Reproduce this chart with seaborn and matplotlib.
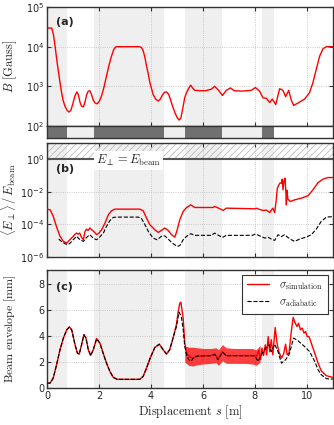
import numpy as np
import matplotlib
matplotlib.use("Agg")
import matplotlib.pyplot as plt
import seaborn as sns

# ---------------- data ----------------
# magnet (shaded) regions along s [m]
mag_start = [0.0, 1.805, 5.30, 8.27]
mag_end = [0.755, 4.52, 6.72, 8.72]
gap_start = [0.755, 4.52, 6.72]
gap_end = [1.805, 5.30, 8.27]

# panel (a): magnetic field, log10(B [Gauss])
s_a = [0.00, 0.18, 0.25, 0.31, 0.37, 0.435, 0.50, 0.56, 0.62, 0.69, 0.77, 0.845, 0.92, 0.99,
       1.07, 1.15, 1.21, 1.27, 1.33, 1.40, 1.46, 1.52, 1.58, 1.65, 1.71, 1.78, 1.85, 1.93,
       2.01, 2.10, 2.20, 2.29, 2.38, 2.48, 2.57, 2.65, 3.57, 3.64, 3.70, 3.77, 3.83, 3.90,
       3.96, 4.02, 4.08, 4.18, 4.28, 4.36, 4.44, 4.52, 4.60, 4.68, 4.75, 4.83, 4.92, 5.00,
       5.08, 5.15, 5.24, 5.30, 5.37, 5.45, 5.53, 5.61, 5.69, 5.9, 6.1, 6.33, 6.45, 6.6,
       6.75, 6.9, 7.06, 7.2, 7.5, 7.86, 8.02, 8.18, 8.31, 8.44, 8.57, 8.67, 8.80, 8.95,
       9.08, 9.18, 9.30, 9.40, 9.49, 9.66, 9.91, 10.1, 10.23, 10.36, 10.49, 10.62, 10.75, 11.0]
logB = [4.47, 4.47, 4.3, 4.02, 3.7, 3.39, 3.1, 2.85, 2.65, 2.5, 2.4, 2.35, 2.4, 2.55,
        2.75, 2.86, 2.78, 2.6, 2.5, 2.48, 2.6, 2.78, 2.87, 2.89, 2.8, 2.65, 2.58, 2.56,
        2.62, 2.76, 3.0, 3.26, 3.52, 3.76, 3.93, 4.0, 4.0, 3.97, 3.9, 3.72, 3.51, 3.3,
        3.09, 2.95, 2.8, 2.68, 2.63, 2.68, 2.78, 2.85, 2.86, 2.8, 2.67, 2.5, 2.34, 2.22,
        2.15, 2.2, 2.5, 2.72, 2.84, 2.95, 3.03, 2.95, 2.9, 2.89, 2.89, 2.93, 3.0, 2.9,
        2.77, 2.9, 2.96, 2.89, 2.88, 2.9, 2.97, 2.88, 2.71, 2.7, 2.59, 2.68, 2.54, 2.94,
        2.9, 2.74, 2.9, 2.65, 2.52, 2.58, 2.68, 2.84, 3.09, 3.43, 3.76, 3.95, 4.0, 4.0]

# panel (b): <E_perp>/E_beam, log10
s_b_sim = [0, 0.12, 0.24, 0.37, 0.5, 0.63, 0.76, 0.88, 1.01, 1.08, 1.14, 1.2, 1.26, 1.33, 1.4,
           1.46, 1.52, 1.58, 1.65, 1.72, 1.78, 1.91, 2.0, 2.1, 2.23, 2.36, 2.48, 2.61, 3.57,
           3.7, 3.83, 3.96, 4.15, 4.28, 4.4, 4.53, 4.66, 4.79, 4.92, 5.01, 5.11, 5.24, 5.37,
           5.53, 5.69, 6.39, 6.45, 6.6, 6.78, 6.9, 8.0, 8.05, 8.18, 8.31, 8.44, 8.57, 8.63,
           8.69, 8.76, 8.82, 8.86, 8.92, 8.97, 9.02, 9.05, 9.08, 9.12, 9.16, 9.19, 9.21, 9.23,
           9.27, 9.36, 9.53, 9.78, 10.04, 10.23, 10.43, 10.62, 10.81, 11.0]
logE_sim = [-3.06, -3.1, -3.5, -4.16, -4.73, -5.04, -5.14, -4.94, -4.73, -4.6, -4.53, -4.6, -4.53,
            -4.8, -4.94, -4.45, -4.29, -4.37, -4.22, -4.33, -4.4, -4.63, -4.53, -4.33, -3.92,
            -3.41, -3.16, -3.06, -3.06, -3.16, -3.61, -4.02, -4.33, -4.49, -4.37, -4.22, -4.37,
            -4.63, -4.78, -4.33, -3.71, -3.2, -2.96, -2.8, -2.96, -2.96, -2.9, -3.0, -3.14,
            -3.0, -3.04, -3.0, -3.08, -3.14, -3.12, -3.27, -3.12, -3.0, -3.27, -2.49, -1.78,
            -1.57, -1.45, -1.47, -1.22, -1.88, -1.27, -1.16, -2.0, -2.8, -1.9, -2.45, -2.59,
            -2.49, -2.39, -2.24, -1.88, -1.43, -1.22, -1.12, -1.12]
s_b_ad = [0.45, 0.6, 0.72, 0.82, 0.92, 1.01, 1.14, 1.27, 1.4, 1.52, 1.65, 1.78, 1.91, 2.04,
          2.17, 2.29, 2.42, 2.55, 2.68, 3.51, 3.64, 3.77, 3.9, 4.08, 4.24, 4.4, 4.53, 4.66,
          4.85, 5.01, 5.11, 5.24, 5.37, 5.53, 5.69, 6.33, 6.45, 6.6, 6.75, 6.9, 7.9, 8.02,
          8.18, 8.38, 8.5, 8.63, 8.76, 8.89, 9.02, 9.14, 9.27, 9.4, 9.53, 9.72, 9.97, 10.17,
          10.36, 10.55, 10.75, 11.0]
logE_ad = [-4.9, -5.1, -5.2, -5.24, -5.1, -4.94, -4.73, -4.94, -5.04, -4.8, -4.63, -4.85, -4.94,
           -4.75, -4.53, -4.12, -3.76, -3.57, -3.55, -3.55, -3.65, -4.02, -4.43, -4.84, -4.94,
           -4.73, -4.7, -4.9, -5.18, -5.35, -5.3, -4.94, -4.73, -4.57, -4.67, -4.67, -4.53,
           -4.67, -4.8, -4.67, -4.67, -4.59, -4.7, -4.84, -4.78, -4.9, -4.98, -4.63, -4.75,
           -4.63, -4.8, -4.94, -5.04, -4.9, -4.78, -4.63, -4.29, -3.82, -3.55, -3.52]

# panel (c): beam envelope [mm]
s_c_ad = [0, 0.12, 0.24, 0.37, 0.5, 0.63, 0.76, 0.86, 0.95, 1.08, 1.17, 1.24, 1.33, 1.42, 1.5,
          1.59, 1.68, 1.78, 1.91, 2.04, 2.16, 2.29, 2.42, 2.55, 2.7, 3.57, 3.7, 3.83, 3.96,
          4.15, 4.32, 4.47, 4.6, 4.72, 4.85, 4.98, 5.08, 5.17, 5.24, 5.3, 5.37, 5.45, 5.53,
          5.69, 6.0, 6.33, 6.45, 6.58, 6.75, 6.9, 7.2, 7.6, 8.0, 8.12, 8.29, 8.41, 8.54, 8.63,
          8.76, 8.89, 9.02, 9.18, 9.31, 9.4, 9.49, 9.66, 9.91, 10.1, 10.3, 10.43, 10.55, 10.75,
          10.94, 11.0]
env_ad = [0.38, 0.38, 0.77, 1.8, 2.95, 3.85, 4.49, 4.69, 4.49, 3.33, 2.69, 2.62, 3.33, 4.1, 3.85,
          2.95, 2.51, 2.95, 3.79, 3.45, 2.69, 1.92, 1.28, 0.82, 0.67, 0.67, 0.9, 1.54, 2.26,
          3.13, 3.38, 2.95, 2.62, 2.95, 3.85, 4.74, 5.85, 5.5, 4.5, 3.2, 2.56, 2.2, 2.05,
          2.44, 2.49, 2.49, 2.6, 2.18, 2.77, 2.49, 2.49, 2.49, 2.49, 2.05, 2.69, 3.08, 3.33, 2.8,
          3.38, 2.8, 1.92, 2.18, 2.56, 3.2, 3.85, 3.64, 3.2, 2.82, 2.05, 1.41, 1.03, 0.72,
          0.69, 0.69]
s_c_sim = [0, 0.12, 0.24, 0.37, 0.5, 0.63, 0.76, 0.86, 0.95, 1.08, 1.17, 1.24, 1.33, 1.42, 1.5,
           1.59, 1.68, 1.78, 1.91, 2.04, 2.16, 2.29, 2.42, 2.55, 2.7, 3.57, 3.7, 3.83, 3.96,
           4.15, 4.32, 4.47, 4.6, 4.72, 4.85, 4.98, 5.05, 5.11, 5.15, 5.24, 5.3, 5.37, 5.5,
           5.6, 5.8, 6.3, 6.45, 6.6, 6.75, 6.9, 8.0, 8.05, 8.15, 8.22, 8.27, 8.33, 8.4, 8.45,
           8.51, 8.57, 8.63, 8.69, 8.78, 8.85, 8.92, 9.02, 9.1, 9.18, 9.24, 9.31, 9.4, 9.47,
           9.55, 9.62, 9.68, 9.75, 9.82, 9.89, 9.95, 10.01, 10.08, 10.17, 10.3, 10.43, 10.55,
           10.75, 11.0]
env_sim = [0.38, 0.38, 0.77, 1.8, 2.95, 3.85, 4.49, 4.72, 4.49, 3.33, 2.69, 2.62, 3.33, 4.12,
           3.85, 2.95, 2.51, 2.95, 3.82, 3.45, 2.69, 1.92, 1.28, 0.82, 0.67, 0.67, 0.9, 1.54,
           2.26, 3.13, 3.38, 2.95, 2.62, 2.95, 3.85, 4.9, 5.9, 6.54, 6.62, 5.38, 3.5, 2.7, 2.4,
           2.3, 2.45, 2.5, 2.6, 2.3, 2.8, 2.5, 2.5, 2.4, 2.9, 2.2, 3.08, 2.5, 3.33, 2.56,
           3.97, 2.8, 3.72, 2.56, 4.67, 3.46, 2.82, 2.3, 2.6, 3.38, 2.56, 2.69, 4.36, 5.44,
           5.0, 4.74, 5.0, 4.49, 4.62, 4.23, 4.36, 3.97, 3.97, 3.46, 2.69, 1.92, 1.33, 0.95, 0.82]
# envelope of the fast oscillations of the simulated beam size
s_band = [5.3, 5.45, 5.6, 5.8, 6.0, 6.3, 6.5, 6.6, 6.75, 6.9, 7.2, 7.6, 7.9, 8.05, 8.2]
band_hi = [3.25, 3.15, 3.15, 3.1, 3.05, 3.05, 3.1, 2.95, 3.35, 3.1, 3.05, 3.05, 3.05, 2.95, 3.3]
band_lo = [2.0, 1.75, 1.7, 1.8, 1.85, 1.9, 1.95, 1.75, 2.1, 1.9, 1.9, 1.9, 1.85, 1.75, 2.0]

# ---------------- style ----------------
sns.set_style("whitegrid", {"axes.edgecolor": "#333333", "grid.color": "#bbbbbb",
                            "grid.linestyle": ":", "xtick.direction": "in",
                            "ytick.direction": "in", "xtick.bottom": True, "ytick.left": True})
plt.rcParams["font.family"] = ["DejaVu Sans"]
plt.rcParams["mathtext.fontset"] = "cm"
plt.rcParams["hatch.linewidth"] = 0.5
plt.rcParams["hatch.color"] = "#999999"
plt.rcParams["axes.linewidth"] = 1.0
plt.rcParams["grid.linewidth"] = 0.6

fig = plt.figure(figsize=(3.34, 4.25), dpi=100)
L, W = 0.1407, 0.856
ax_a = fig.add_axes([L, 0.7035, W, 0.280])
ax_s = fig.add_axes([L, 0.6753, W, 0.0282])
ax_b = fig.add_axes([L, 0.3953, W, 0.2682])
ax_c = fig.add_axes([L, 0.0870, W, 0.2777])

shade = "#efefef"
tick_fs = 7
lab_fs = 9

for ax in (ax_a, ax_b, ax_c):
    for a, b in zip(mag_start, mag_end):
        ax.axvspan(a, b, color=shade, lw=0, zorder=0)
    ax.set_xlim(0, 11)
    ax.set_xticks([0, 2, 4, 6, 8, 10])
    ax.tick_params(labelsize=tick_fs, length=3, width=0.8, color="#333333",
                   top=True, right=True, direction="in", pad=2)
    ax.grid(True, which="major")
    ax.set_axisbelow(True)

# (a)
ax_a.set_yscale("log")
sns.lineplot(x=s_a, y=10.0 ** np.array(logB), ax=ax_a, color="red", lw=1.0,
             estimator=None, sort=False)
ax_a.set_ylim(1e2, 1e5)
ax_a.set_yticks([1e2, 1e3, 1e4, 1e5])
ax_a.minorticks_off()
ax_a.set_xticklabels([])
ax_a.set_xlabel("")
ax_a.set_ylabel(r"$B\ [\mathrm{Gauss}]$", fontsize=lab_fs)
ax_a.yaxis.set_label_coords(-0.098, 0.5)
ax_a.text(0.03, 0.87, "(a)", transform=ax_a.transAxes, fontsize=8, fontweight="bold",
          va="center")

# strip with magnet positions
ax_s.barh([0.5] * len(mag_start), np.array(mag_end) - np.array(mag_start), left=mag_start,
          height=1.0, color="#707070", lw=0)
ax_s.barh([0.5] * len(gap_start), np.array(gap_end) - np.array(gap_start), left=gap_start,
          height=1.0, color=shade, lw=0)
ax_s.set_xlim(0, 11)
ax_s.set_ylim(0, 1)
ax_s.set_xticks([])
ax_s.set_yticks([])
ax_s.grid(False)

# (b)
ax_b.set_yscale("log")
ax_b.fill_between([0, 11], 1, 10, facecolor="none", edgecolor="#b0b0b0", hatch="/////",
                  lw=0, zorder=1)
ax_b.axhline(1.0, color="#555555", lw=1.5, zorder=2)
sns.lineplot(x=s_b_sim, y=10.0 ** np.array(logE_sim), ax=ax_b, color="red", lw=1.0,
             estimator=None, sort=False, zorder=3)
sns.lineplot(x=s_b_ad, y=10.0 ** np.array(logE_ad), ax=ax_b, color="black", lw=0.8,
             linestyle="--", estimator=None, sort=False, zorder=3)
ax_b.set_ylim(1e-6, 1e1)
ax_b.set_yticks([1e-6, 1e-4, 1e-2, 1e0])
ax_b.minorticks_off()
ax_b.set_xticklabels([])
ax_b.set_xlabel("")
ax_b.text(3.15, 0.85, r"$E_\perp = E_\mathrm{beam}$", fontsize=9, ha="center", va="center",
          bbox=dict(facecolor="white", edgecolor="none", pad=1.5), zorder=4)
ax_b.set_ylabel(r"$\langle E_\perp\rangle\,/\,E_\mathrm{beam}$", fontsize=lab_fs)
ax_b.yaxis.set_label_coords(-0.098, 0.5)
ax_b.text(0.03, 0.77, "(b)", transform=ax_b.transAxes, fontsize=8, fontweight="bold",
          va="center")

# (c)
ax_c.fill_between(s_band, band_lo, band_hi, color="red", alpha=0.75, lw=0, zorder=2)
sns.lineplot(x=s_c_sim, y=env_sim, ax=ax_c, color="red", lw=1.0, estimator=None, sort=False,
             label=r"$\sigma_\mathrm{simulation}$", zorder=3)
sns.lineplot(x=s_c_ad, y=env_ad, ax=ax_c, color="black", lw=0.8, linestyle="--",
             estimator=None, sort=False, label=r"$\sigma_\mathrm{adiabatic}$", zorder=4)
ax_c.set_ylim(0, 9.1)
ax_c.set_yticks([0, 2, 4, 6, 8])
ax_c.set_xlabel(r"$\mathrm{Displacement}\ s\ [\mathrm{m}]$", fontsize=lab_fs, labelpad=2)
ax_c.set_ylabel(r"$\mathrm{Beam\ envelope\ [mm]}$", fontsize=8.6)
ax_c.yaxis.set_label_coords(-0.1, 0.5)
ax_c.text(0.03, 0.86, "(c)", transform=ax_c.transAxes, fontsize=8, fontweight="bold",
          va="center")
leg = ax_c.legend(loc="upper right", fontsize=8, frameon=True, fancybox=False,
                  edgecolor="#333333", framealpha=1, handlelength=2.0, borderpad=0.45,
                  labelspacing=0.45, handletextpad=0.9, borderaxespad=0.45)
leg.get_frame().set_linewidth(0.8)

for ax in (ax_a, ax_s, ax_b, ax_c):
    for sp in ax.spines.values():
        sp.set_color("#333333")
        sp.set_linewidth(1.0)

fig.savefig("out.png", dpi=100)
